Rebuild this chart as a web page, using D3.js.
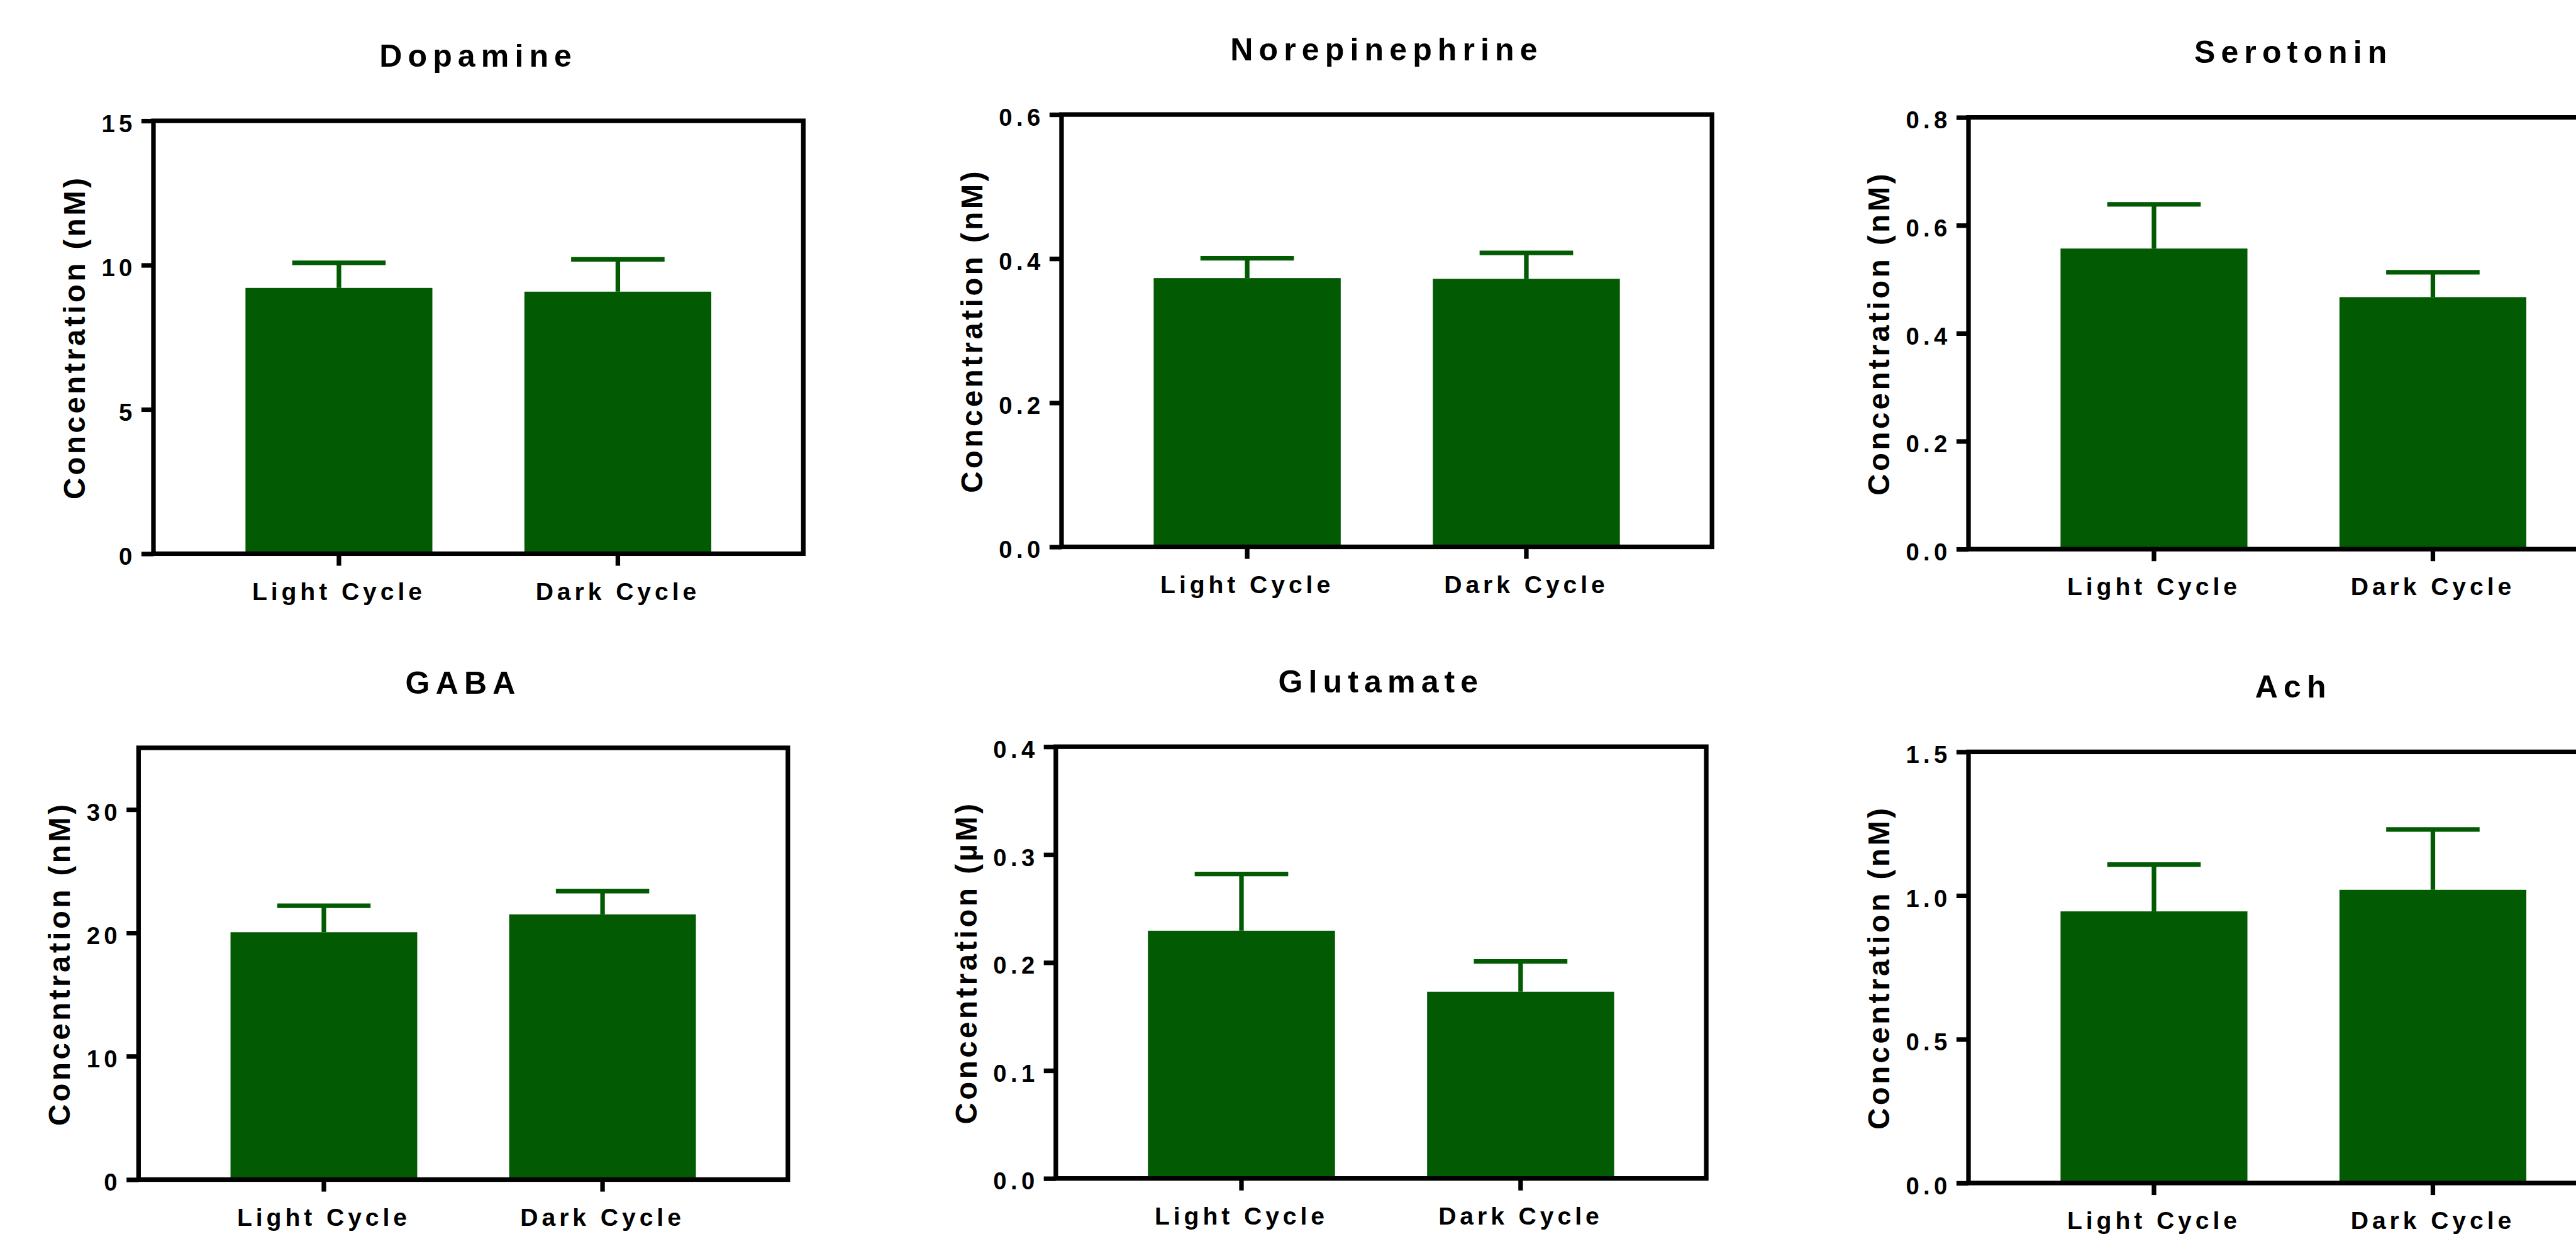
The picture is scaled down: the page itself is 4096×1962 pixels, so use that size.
<!DOCTYPE html>
<html lang="en">
<head>
  <meta charset="UTF-8" />
  <title>Neurotransmitter levels, light vs dark cycle</title>
  <script src="https://d3js.org/d3.v7.min.js"></script>
  <style>
    body {
      margin: 0;
      background: #fff;
    }

    svg {
      display: block;
      font-family: "Liberation Sans", Arial, sans-serif;
      font-weight: bold;
    }

    .frame {
      fill: none;
      stroke: #000;
      stroke-width: 8px;
    }

    .axis path {
      display: none;
    }

    .axis line {
      stroke: #000;
      stroke-width: 8px;
    }

    .y-axis text {
      fill: #000;
      font-family: "Liberation Sans", Arial, sans-serif;
      font-weight: bold;
      font-size: 42px;
      letter-spacing: 7px;
    }

    .x-axis text {
      fill: #000;
      font-family: "Liberation Sans", Arial, sans-serif;
      font-weight: bold;
      font-size: 43px;
      letter-spacing: 6.5px;
    }

    .title {
      font-size: 55px;
      letter-spacing: 10px;
      text-anchor: middle;
    }

    .y-label {
      font-size: 52px;
      letter-spacing: 5px;
      text-anchor: middle;
    }

    .err {
      stroke: #025a02;
      stroke-width: 8px;
    }
  </style>
</head>
<body>
  <svg id="chart" width="4096" height="1962" viewBox="0 0 4499 2155"></svg>

  <script>
    const categories = ["Light Cycle", "Dark Cycle"];
    const titles = ["Dopamine", "Norepinephrine", "Serotonin", "GABA", "Glutamate", "Ach"];
    const units = ["nM", "nM", "nM", "nM", "µM", "nM"];

    const lightMeans = [9.21, 0.373, 0.557, 20.05, 0.2295, 0.945];
    const darkMeans = [9.08, 0.372, 0.467, 21.5, 0.173, 1.02];
    const lightErr = [0.87, 0.0275, 0.082, 2.15, 0.0525, 0.163];
    const darkErr = [1.12, 0.036, 0.046, 1.89, 0.028, 0.21];

    const yMax = [15, 0.6, 0.8, 35, 0.4, 1.5];
    const yTicks = [
      [0, 5, 10, 15],
      [0, 0.2, 0.4, 0.6],
      [0, 0.2, 0.4, 0.6, 0.8],
      [0, 10, 20, 30],
      [0, 0.1, 0.2, 0.3, 0.4],
      [0, 0.5, 1.0, 1.5]
    ];
    const tickFormats = ["d", ".1f", ".1f", "d", ".1f", ".1f"];

    // plot frames [left, top, right, bottom], in reference pixels
    const boxes = [
      [268, 211, 1403, 967],
      [1854, 200, 2990, 955],
      [3438, 205, 4573, 959],
      [242, 1306, 1376, 2060],
      [1844, 1304, 2980, 2058],
      [3438, 1313, 4573, 2066]
    ];

    const barColor = "#025a02";
    const svg = d3.select("#chart");

    titles.forEach((title, i) => {
      const [l, t, r, b] = boxes[i];
      const g = svg.append("g");

      const x = d3.scaleBand()
        .domain(categories)
        .range([l, r])
        .paddingInner(0.33)
        .paddingOuter(0.33);

      const y = d3.scaleLinear()
        .domain([0, yMax[i]])
        .range([b, t]);

      const rows = categories.map((c, k) => ({
        cat: c,
        mean: k === 0 ? lightMeans[i] : darkMeans[i],
        err: k === 0 ? lightErr[i] : darkErr[i]
      }));

      // bars
      g.selectAll("rect.bar")
        .data(rows)
        .enter()
        .append("rect")
        .attr("class", "bar")
        .attr("x", d => x(d.cat))
        .attr("y", d => y(d.mean))
        .attr("width", x.bandwidth())
        .attr("height", d => y(0) - y(d.mean))
        .attr("fill", barColor);

      // error bars (upper only)
      const cx = d => x(d.cat) + x.bandwidth() / 2;
      g.selectAll("line.stem")
        .data(rows)
        .enter()
        .append("line")
        .attr("class", "err")
        .attr("x1", cx)
        .attr("x2", cx)
        .attr("y1", d => y(d.mean))
        .attr("y2", d => y(d.mean + d.err));

      g.selectAll("line.cap")
        .data(rows)
        .enter()
        .append("line")
        .attr("class", "err")
        .attr("x1", d => cx(d) - x.bandwidth() / 4)
        .attr("x2", d => cx(d) + x.bandwidth() / 4)
        .attr("y1", d => y(d.mean + d.err))
        .attr("y2", d => y(d.mean + d.err));

      // frame
      g.append("rect")
        .attr("class", "frame")
        .attr("x", l)
        .attr("y", t)
        .attr("width", r - l)
        .attr("height", b - t);

      // axes
      const gy = g.append("g")
        .attr("class", "axis y-axis")
        .attr("transform", `translate(${l},0)`)
        .call(d3.axisLeft(y)
          .tickValues(yTicks[i])
          .tickSize(21)
          .tickPadding(9)
          .tickFormat(d3.format(tickFormats[i])));
      gy.selectAll("text").attr("dy", "0.45em");

      g.append("g")
        .attr("class", "axis x-axis")
        .attr("transform", `translate(0,${b})`)
        .call(d3.axisBottom(x)
          .tickSize(21)
          .tickPadding(29));

      // title
      g.append("text")
        .attr("class", "title")
        .attr("x", (l + r) / 2)
        .attr("y", t - 95)
        .text(title);

      // y label, placed left of the tick labels
      const bb = gy.node().getBBox();
      g.append("text")
        .attr("class", "y-label")
        .attr("transform", `translate(${l + bb.x - 29},${(t + b) / 2}) rotate(-90)`)
        .text(`Concentration (${units[i]})`);
    });
  </script>
</body>
</html>
